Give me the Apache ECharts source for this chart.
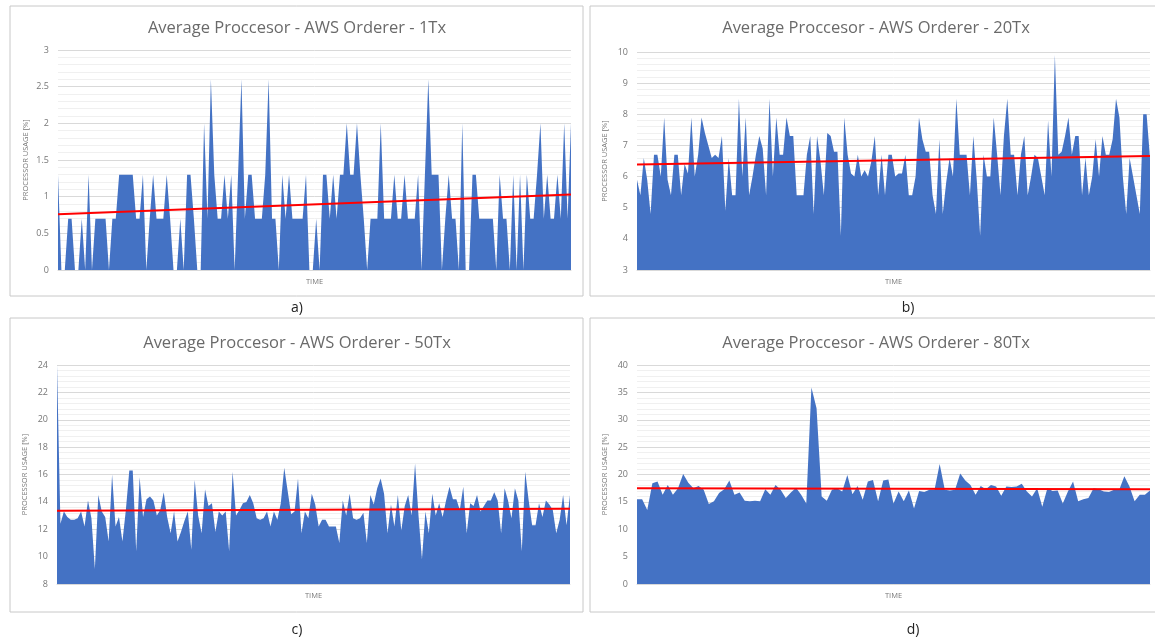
<!DOCTYPE html>
<html>
<head>
<meta charset="utf-8">
<script src="https://cdn.jsdelivr.net/npm/echarts@6/dist/echarts.min.js"></script>
<style>
html,body{margin:0;padding:0;background:#fff;}
#chart{width:1155px;height:642px;}
</style>
</head>
<body>
<div id="chart"></div>
<script>
// ---- Data ----
const titles = [
  'Average Proccesor - AWS Orderer - 1Tx',
  'Average Proccesor - AWS Orderer - 20Tx',
  'Average Proccesor - AWS Orderer - 50Tx',
  'Average Proccesor - AWS Orderer - 80Tx'
];
const panelLabels = ['a)', 'b)', 'c)', 'd)'];
const yAxisName = 'PROCESSOR USAGE [%]';
const xAxisName = 'TIME';

const usage1Tx = [1.3,0,0,0.7,0.7,0,0,0.7,0,1.3,
0,0.7,0.7,0.7,0.7,0,0.7,0.7,1.3,1.3,
1.3,1.3,1.3,0.7,0.7,1.3,0,0.7,1.3,0.7,
0.7,0.7,1.3,0.7,0,0,0.7,0,1.3,1.3,
0.7,0,0,2.0,0.7,2.6,1.3,0.7,0.7,1.3,
0.7,1.3,0,1.3,2.6,0.7,1.3,1.3,0.7,0.7,
0.7,1.3,2.6,0.7,0.7,0,1.3,0.7,1.3,0.7,
0.7,0.7,0.7,1.3,0,0,0.7,0,1.3,1.3,
0.7,1.3,0.7,1.3,1.3,2.0,1.3,1.3,2.0,1.3,
0.7,0,0.7,0.7,0.7,2.0,0.7,0.7,0.7,1.3,
0.7,0.7,1.3,0.7,0.7,0.7,1.3,0,1.3,2.6,
1.3,1.3,1.3,0,0.7,1.3,0.7,0.7,0,2.0,
0,0,1.3,1.3,0.7,0.7,0.7,0.7,0.7,0,
1.3,0.7,0.7,0,1.3,0,1.3,0,1.3,0.7,
0.7,1.3,2.0,0.7,1.3,0.7,0.7,1.3,0.7,2.0,
0.7,2.0];

const usage20Tx = [5.9,5.4,6.6,5.9,4.8,6.7,6.7,6.0,7.9,5.9,
5.4,6.7,6.7,5.4,6.4,6.1,7.9,6.0,6.7,7.9,
7.4,7.0,6.6,6.7,6.6,7.3,4.9,6.6,5.4,5.4,
8.5,6.0,7.9,5.4,6.0,6.7,7.3,6.9,5.4,8.5,
6.0,7.9,6.7,6.7,7.9,7.3,7.3,5.4,5.4,5.4,
6.7,7.3,4.8,7.3,6.5,5.4,7.4,7.3,6.8,6.8,
4.1,7.9,6.7,6.1,6.0,6.7,6.0,6.2,6.0,6.5,
7.3,5.4,6.7,5.4,6.7,6.7,6.0,6.1,6.1,6.7,
5.4,5.4,6.0,7.9,7.2,6.8,6.8,5.4,4.8,7.2,
4.8,5.8,6.6,6.0,8.5,6.7,6.7,6.7,5.4,7.3,
5.9,4.1,6.7,6.0,6.0,7.9,6.7,5.4,7.3,8.5,
6.7,6.7,5.4,6.7,7.3,5.4,6.0,6.7,6.6,6.0,
5.4,7.8,6.0,9.9,6.7,6.8,7.3,7.9,6.7,7.3,
7.3,5.4,6.6,5.4,6.0,7.2,6.0,7.3,6.7,6.7,
7.2,8.5,7.9,6.0,4.8,6.6,6.0,5.4,4.8,8.0,
8.0,6.6];

const usage50Tx = [24,12.4,13.3,12.9,12.7,12.7,12.8,13.3,12.2,14.1,
12.8,9.1,14.5,13.3,12.9,11.1,16.0,12.2,12.9,11.1,
13.4,16.3,16.3,10.4,15.8,12.9,14.2,14.4,14.1,13.0,
13.4,14.7,12.9,11.7,13.3,11.1,11.8,12.6,13.3,10.5,
15.6,13.0,11.7,14.9,13.7,13.9,11.8,13.3,13.0,13.3,
10.4,16.2,13.0,13.4,13.9,14.0,14.5,13.9,12.8,12.7,
12.8,13.3,12.2,13.3,12.7,13.9,16.5,14.8,13.1,13.3,
15.7,11.7,13.3,12.8,14.6,13.8,12.2,12.7,12.7,12.2,
12.2,12.2,11.0,14.1,13.0,14.6,12.8,12.7,12.8,13.2,
11.0,14.5,13.8,15.0,15.7,14.6,11.7,13.8,12.2,14.5,
11.9,13.7,14.5,13.0,16.8,13.0,9.8,13.3,11.7,14.6,
13.0,13.9,12.9,14.1,15.1,14.2,14.2,13.4,15.1,11.7,
13.9,13.7,14.5,13.3,13.7,14.1,14.1,14.7,14.1,11.7,
15.0,14.1,12.8,15.0,14.1,10.4,16.2,14.1,12.3,12.3,
13.9,12.9,14.1,13.8,13.4,11.7,12.7,14.5,12.3,14.5];

const usage80Tx = [15.5,15.5,13.5,18.4,18.7,16.3,18.1,16.3,17.5,20.1,
18.5,17.5,17.9,17.2,14.6,15.1,16.6,17.3,18.9,16.3,
16.7,15.2,15.1,15.2,15.1,17.3,16.3,18.1,17.2,15.7,
16.7,17.6,16.3,14.7,35.9,32.1,16.0,15.2,17.2,17.5,
16.9,19.9,16.4,17.9,15.4,18.7,19.0,15.1,18.9,19.1,
14.7,16.9,15.1,17.1,13.8,17.0,16.8,17.2,17.2,21.9,
17.2,17.1,17.2,20.2,18.9,18.1,16.3,17.9,17.3,18.1,
17.8,16.1,17.8,17.7,17.8,18.3,16.9,16.0,17.5,14.1,
17.5,17.0,17.1,14.7,16.9,18.7,15.1,15.5,15.7,17.5,
17.3,16.9,16.8,17.2,17.2,19.7,17.8,15.1,16.3,16.3,
17.1];

// Linear trend line endpoints (start, end)
const trend1Tx = [0.76, 1.03];
const trend20Tx = [6.39, 6.66];
const trend50Tx = [13.36, 13.5];
const trend80Tx = [17.48, 17.3];

// Y axis ranges [min, max, interval]
const yRange1Tx = [0, 3, 0.5];
const yRange20Tx = [3, 10, 1];
const yRange50Tx = [8, 24, 2];
const yRange80Tx = [0, 40, 5];

// ---- Layout ----
const series = [usage1Tx, usage20Tx, usage50Tx, usage80Tx];
const trends = [trend1Tx, trend20Tx, trend50Tx, trend80Tx];
const yRanges = [yRange1Tx, yRange20Tx, yRange50Tx, yRange80Tx];
const grids = [
  {left: 58, top: 50, width: 513, height: 220},
  {left: 637, top: 52, width: 513, height: 218},
  {left: 57, top: 365, width: 513, height: 219},
  {left: 637, top: 365, width: 513, height: 219}
];
const boxes = [
  {x: 10, y: 6, w: 573, h: 290},
  {x: 590, y: 6, w: 570, h: 290},
  {x: 10, y: 318, w: 573, h: 294},
  {x: 590, y: 318, w: 570, h: 294}
];
const titlePos = [[292, 15], [871, 15], [292, 330], [871, 330]];
const labelPos = [[297, 308], [908, 308], [297, 630], [913, 630]];

const fontFam = '"Open Sans", "Liberation Sans", sans-serif';
const option = {
  animation: false,
  backgroundColor: '#fff',
  title: titles.map((t, i) => ({
    text: t, left: titlePos[i][0], top: titlePos[i][1], textAlign: 'center',
    textStyle: {fontFamily: fontFam, fontSize: 16.5, fontWeight: 'normal', color: '#6a6a6a'}
  })),
  grid: grids,
  xAxis: series.map((d, i) => ({
    type: 'category', gridIndex: i, boundaryGap: false,
    data: d.map((_, k) => String(k + 1)),
    axisLabel: {show: false}, axisTick: {show: false},
    axisLine: {show: true, lineStyle: {color: '#d9d9d9'}},
    name: xAxisName, nameLocation: 'middle', nameGap: 8,
    nameTextStyle: {fontFamily: fontFam, fontSize: 7.5, color: '#777'}
  })),
  yAxis: yRanges.map((r, i) => ({
    type: 'value', gridIndex: i, min: r[0], max: r[1], interval: r[2],
    axisLine: {show: false}, axisTick: {show: false},
    axisLabel: {fontFamily: fontFam, fontSize: 9, color: '#777', margin: 9},
    splitLine: {show: true, lineStyle: {color: '#d9d9d9', width: 1}},
    minorTick: {show: false, splitNumber: 5},
    minorSplitLine: {show: true, lineStyle: {color: '#f0f0f0', width: 1}},
    name: yAxisName, nameLocation: 'middle', nameRotate: 90, nameGap: 28,
    nameTextStyle: {fontFamily: fontFam, fontSize: 7.5, color: '#777'}
  })),
  series: [].concat(
    series.map((d, i) => ({
      type: 'line', xAxisIndex: i, yAxisIndex: i, data: d,
      symbol: 'none', lineStyle: {width: 0},
      areaStyle: {color: '#4472C4', opacity: 1}, z: 2
    })),
    trends.map((t, i) => ({
      type: 'line', xAxisIndex: i, yAxisIndex: i,
      data: [[0, t[0]], [series[i].length - 1, t[1]]],
      symbol: 'none', lineStyle: {color: '#ff0000', width: 2}, z: 3
    }))
  ),
  graphic: [].concat(
    boxes.map(b => ({
      type: 'rect', shape: {x: b.x, y: b.y, width: b.w, height: b.h},
      style: {fill: 'none', stroke: '#c8c8c8', lineWidth: 1}, silent: true
    })),
    panelLabels.map((l, i) => ({
      type: 'text', x: labelPos[i][0], y: labelPos[i][1],
      style: {text: l, font: '14px ' + fontFam, fill: '#222', textAlign: 'center', textVerticalAlign: 'middle'}
    }))
  )
};
const chart = echarts.init(document.getElementById('chart'));
chart.setOption(option);
</script>
</body>
</html>
